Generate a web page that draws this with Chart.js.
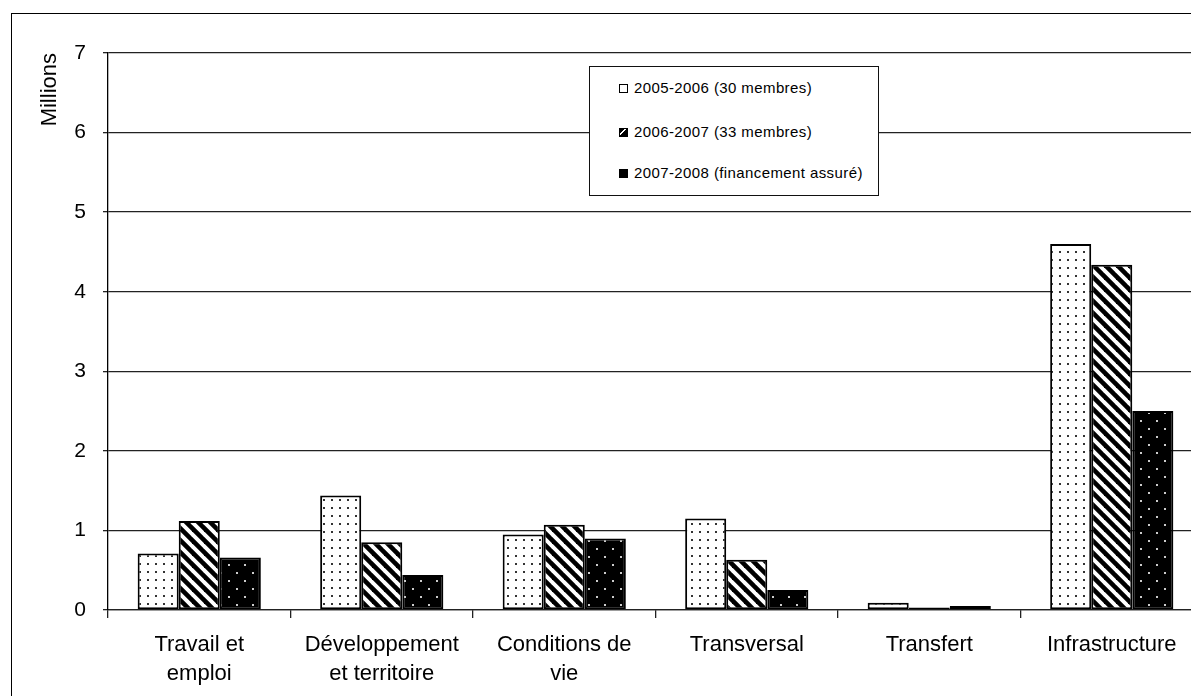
<!DOCTYPE html>
<html><head><meta charset="utf-8">
<script src="https://cdn.jsdelivr.net/npm/chart.js@4.4.1/dist/chart.umd.min.js"></script>
<style>
html,body{margin:0;padding:0;overflow:hidden;background:#fff;width:1191px;height:696px;}
#frame{position:absolute;left:11px;top:13px;width:1300px;height:800px;border-left:1.5px solid #000;border-top:1.5px solid #000;}
#wrap{position:absolute;left:0;top:0;width:1230px;height:700px;}
#legend{position:absolute;left:589px;top:66px;width:288px;height:128px;border:1.3px solid #111;background:#fff;font-family:'Liberation Sans',Arial,sans-serif;font-size:15px;letter-spacing:0.4px;color:#000;}
.item{position:absolute;left:29px;height:18px;line-height:18px;white-space:nowrap;}
.mk{display:inline-block;width:7px;height:7px;border:1.2px solid #000;margin-right:6px;vertical-align:middle;position:relative;top:-1px;box-sizing:content-box;}
</style></head>
<body>
<div id="frame"></div>
<div id="wrap"><canvas id="c" width="1230" height="700"></canvas></div>
<div id="legend"></div>
<script>
const categories = [['Travail et','emploi'],['Développement','et territoire'],['Conditions de','vie'],'Transversal','Transfert','Infrastructure'];
const seriesLabels = ['2005-2006 (30 membres)','2006-2007 (33 membres)','2007-2008 (financement assuré)'];
const values2005 = [0.71, 1.44, 0.95, 1.15, 0.09, 4.60];
const values2006 = [1.12, 0.85, 1.07, 0.63, 0.03, 4.34];
const values2007 = [0.66, 0.44, 0.90, 0.25, 0.05, 2.50];
const yMin = 0, yMax = 7, yStep = 1;
const axisTitle = 'Millions';

function tile(w, h, draw) {
  const c = document.createElement('canvas');
  c.width = w; c.height = h;
  const g = c.getContext('2d');
  draw(g, w, h);
  return c;
}
const ctx = document.getElementById('c').getContext('2d');
const dotTile = tile(8, 8, (g, w, h) => {
  g.fillStyle = '#fff'; g.fillRect(0, 0, w, h);
  g.fillStyle = '#333'; g.fillRect(3, 3, 2, 2);
});
const hatchTile = tile(12, 12, (g, w, h) => {
  g.fillStyle = '#fff'; g.fillRect(0, 0, w, h);
  g.strokeStyle = '#000'; g.lineWidth = 4.6;
  for (let k = -1; k <= 1; k++) {
    g.beginPath(); g.moveTo(k * 12 - 2, -2); g.lineTo(k * 12 + 14, 14); g.stroke();
  }
});
const blackDotTile = tile(16, 16, (g, w, h) => {
  g.fillStyle = '#000'; g.fillRect(0, 0, w, h);
  g.fillStyle = '#ccc'; g.fillRect(4, 4, 2, 2); g.fillRect(12, 12, 2, 2);
});
const fills = [ctx.createPattern(dotTile, 'repeat'), ctx.createPattern(hatchTile, 'repeat'), ctx.createPattern(blackDotTile, 'repeat')];
const seriesValues = [values2005, values2006, values2007];

const chart = new Chart(ctx, {
  type: 'bar',
  data: {
    labels: categories,
    datasets: seriesValues.map((v, i) => ({
      label: seriesLabels[i], data: v, backgroundColor: fills[i],
      borderColor: '#000', borderWidth: 2, borderSkipped: false,
      categoryPercentage: 0.675, barPercentage: 1.0
    }))
  },
  options: {
    responsive: false, animation: false, devicePixelRatio: 1,
    layout: { padding: { left: 0, top: 53, right: 27, bottom: 0 } },
    plugins: { legend: { display: false }, tooltip: { enabled: false } },
    scales: {
      x: {
        offset: true,
        grid: { offset: true, drawOnChartArea: false, drawTicks: true, tickLength: 8, color: '#222', lineWidth: 1.3 },
        border: { display: true, color: '#222', width: 1.3 },
        ticks: { color: '#000', font: { family: "'Liberation Sans', Arial, sans-serif", size: 22, lineHeight: 1.3 }, padding: 13, maxRotation: 0, autoSkip: false },
        afterFit: s => { s.height = 90; }
      },
      y: {
        min: yMin, max: yMax,
        grid: { color: '#222', lineWidth: 1.3, tickLength: 5 },
        border: { display: true, color: '#000', width: 1.3 },
        ticks: { stepSize: yStep, color: '#000', padding: 17, font: { family: "'Liberation Sans', Arial, sans-serif", size: 21 } },
        title: { display: true, text: axisTitle, align: 'end', color: '#000', padding: { top: 37, bottom: 0 }, font: { family: "'Liberation Sans', Arial, sans-serif", size: 22 } },
        afterFit: s => { s.width = 108; }
      }
    }
  }
});

// HTML legend built from the chart datasets
const legend = document.getElementById('legend');
const tops = [12, 56, 97];
const mkStyles = [
  'background:#fff;',
  'background:linear-gradient(135deg,#000 0 30%,#fff 30% 45%,#000 45% 100%);',
  'background:#000;'
];
chart.data.datasets.forEach((ds, i) => {
  const d = document.createElement('div');
  d.className = 'item'; d.style.top = tops[i] + 'px';
  const m = document.createElement('span'); m.className = 'mk'; m.setAttribute('style', mkStyles[i]);
  d.appendChild(m);
  d.appendChild(document.createTextNode(ds.label));
  legend.appendChild(d);
});
</script>
</body></html>
